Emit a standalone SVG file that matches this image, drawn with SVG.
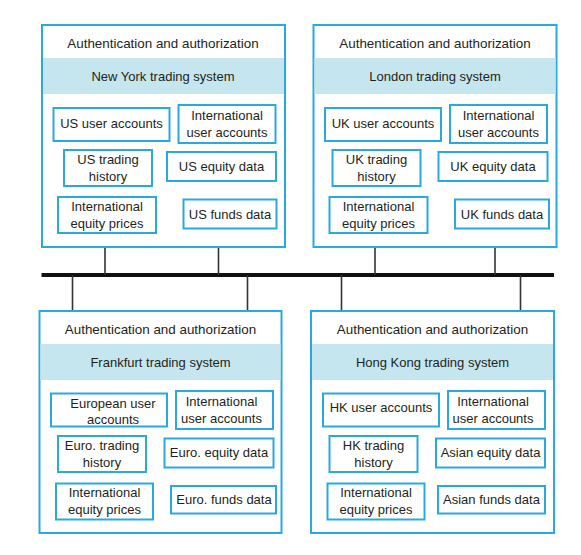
<svg xmlns="http://www.w3.org/2000/svg" width="581" height="555" viewBox="0 0 581 555">
<style>
.outer{fill:#fff;stroke:#2aa9df;stroke-width:2}
.band{fill:#c6e6ef}
.box{fill:#fff;stroke:#2aa9df;stroke-width:2}
text{font-family:"Liberation Sans",Arial,sans-serif;font-size:13px;fill:#231f20;text-anchor:middle;dominant-baseline:central}
.hdr{font-size:13.4px}
.conn{stroke:#333;stroke-width:1.6;fill:none}
.bus{stroke:#111;stroke-width:4;fill:none}
</style>
<rect width="581" height="555" fill="#fff"/>
<g id="connectors">
<line class="bus" x1="41.5" y1="275" x2="554" y2="275"/>
<line class="conn" x1="105" y1="247" x2="105" y2="275"/>
<line class="conn" x1="218.5" y1="247" x2="218.5" y2="275"/>
<line class="conn" x1="375" y1="247" x2="375" y2="275"/>
<line class="conn" x1="495" y1="247" x2="495" y2="275"/>
<line class="conn" x1="72.5" y1="275" x2="72.5" y2="311"/>
<line class="conn" x1="247.5" y1="275" x2="247.5" y2="311"/>
<line class="conn" x1="341.5" y1="275" x2="341.5" y2="311"/>
<line class="conn" x1="520.5" y1="275" x2="520.5" y2="311" stroke="#777"/>
</g>
<g id="newyork">
<rect class="outer" x="42" y="25" width="243" height="222"/>
<rect class="band" x="43" y="58" width="241" height="36"/>
<text class="hdr" x="163" y="43">Authentication and authorization</text>
<text x="163" y="76.5">New York trading system</text>
<g id="ny-us-user"><rect class="box" x="53.5" y="108" width="116" height="33"/><text x="111.5" y="123">US user accounts</text></g>
<g id="ny-intl-user"><rect class="box" x="178.5" y="105" width="97" height="38"/><text x="227" y="115.5">International</text><text x="227" y="132.5">user accounts</text></g>
<g id="ny-history"><rect class="box" x="64" y="150" width="88" height="36"/><text x="108" y="159.5">US trading</text><text x="108" y="176">history</text></g>
<g id="ny-equity"><rect class="box" x="167" y="152" width="109" height="29"/><text x="221.5" y="166.5">US equity data</text></g>
<g id="ny-prices"><rect class="box" x="58" y="197" width="98" height="36"/><text x="107" y="206">International</text><text x="107" y="223">equity prices</text></g>
<g id="ny-funds"><rect class="box" x="183.5" y="199.5" width="93" height="29"/><text x="230" y="214">US funds data</text></g>
</g>
<g id="london">
<rect class="outer" x="313.5" y="25" width="243" height="222"/>
<rect class="band" x="314.5" y="58" width="241" height="36"/>
<text class="hdr" x="435" y="43">Authentication and authorization</text>
<text x="435" y="76.5">London trading system</text>
<g id="uk-user"><rect class="box" x="325" y="108" width="116" height="33"/><text x="383" y="123">UK user accounts</text></g>
<g id="uk-intl-user"><rect class="box" x="450" y="105" width="97" height="38"/><text x="498.5" y="115.5">International</text><text x="498.5" y="132.5">user accounts</text></g>
<g id="uk-history"><rect class="box" x="332.5" y="150" width="88" height="36"/><text x="376.5" y="159.5">UK trading</text><text x="376.5" y="176">history</text></g>
<g id="uk-equity"><rect class="box" x="438.5" y="152" width="109" height="29"/><text x="493" y="166.5">UK equity data</text></g>
<g id="uk-prices"><rect class="box" x="329.5" y="197" width="98" height="36"/><text x="378.5" y="206">International</text><text x="378.5" y="223">equity prices</text></g>
<g id="uk-funds"><rect class="box" x="455" y="199.5" width="94" height="29"/><text x="502" y="214">UK funds data</text></g>
</g>
<g id="frankfurt">
<rect class="outer" x="39.5" y="311" width="242" height="222"/>
<rect class="band" x="40.5" y="344" width="240" height="36"/>
<text class="hdr" x="160.5" y="329">Authentication and authorization</text>
<text x="160.5" y="362.5">Frankfurt trading system</text>
<g id="fr-user"><rect class="box" x="51" y="393.5" width="116" height="33"/><text x="113" y="403">European user</text><text x="113" y="419.5">accounts</text></g>
<g id="fr-intl-user"><rect class="box" x="176" y="391" width="97" height="38"/><text x="221.5" y="401.5">International</text><text x="221.5" y="418.5">user accounts</text></g>
<g id="fr-history"><rect class="box" x="58" y="436" width="88" height="36"/><text x="102" y="445">Euro. trading</text><text x="102" y="462">history</text></g>
<g id="fr-equity"><rect class="box" x="164.5" y="438.5" width="109" height="29"/><text x="219" y="452.5">Euro. equity data</text></g>
<g id="fr-prices"><rect class="box" x="56" y="483.5" width="97" height="36"/><text x="104.5" y="492.5">International</text><text x="104.5" y="509">equity prices</text></g>
<g id="fr-funds"><rect class="box" x="171" y="486" width="105" height="27.5"/><text x="224" y="499.5">Euro. funds data</text></g>
</g>
<g id="hongkong">
<rect class="outer" x="311" y="311" width="243" height="222"/>
<rect class="band" x="312" y="344" width="241" height="36"/>
<text class="hdr" x="432.5" y="329">Authentication and authorization</text>
<text x="432.5" y="362.5">Hong Kong trading system</text>
<g id="hk-user"><rect class="box" x="323" y="393.5" width="116" height="33"/><text x="381" y="407">HK user accounts</text></g>
<g id="hk-intl-user"><rect class="box" x="448" y="391" width="97" height="38"/><text x="493" y="401.5">International</text><text x="493" y="418.5">user accounts</text></g>
<g id="hk-history"><rect class="box" x="329.5" y="436" width="88" height="36"/><text x="373.5" y="445">HK trading</text><text x="373.5" y="462">history</text></g>
<g id="hk-equity"><rect class="box" x="436" y="438.5" width="109" height="29"/><text x="490.5" y="452.5">Asian equity data</text></g>
<g id="hk-prices"><rect class="box" x="327.5" y="483.5" width="97" height="36"/><text x="376" y="492.5">International</text><text x="376" y="509">equity prices</text></g>
<g id="hk-funds"><rect class="box" x="438" y="486" width="107" height="27.5"/><text x="491.5" y="499.5">Asian funds data</text></g>
</g>
</svg>
